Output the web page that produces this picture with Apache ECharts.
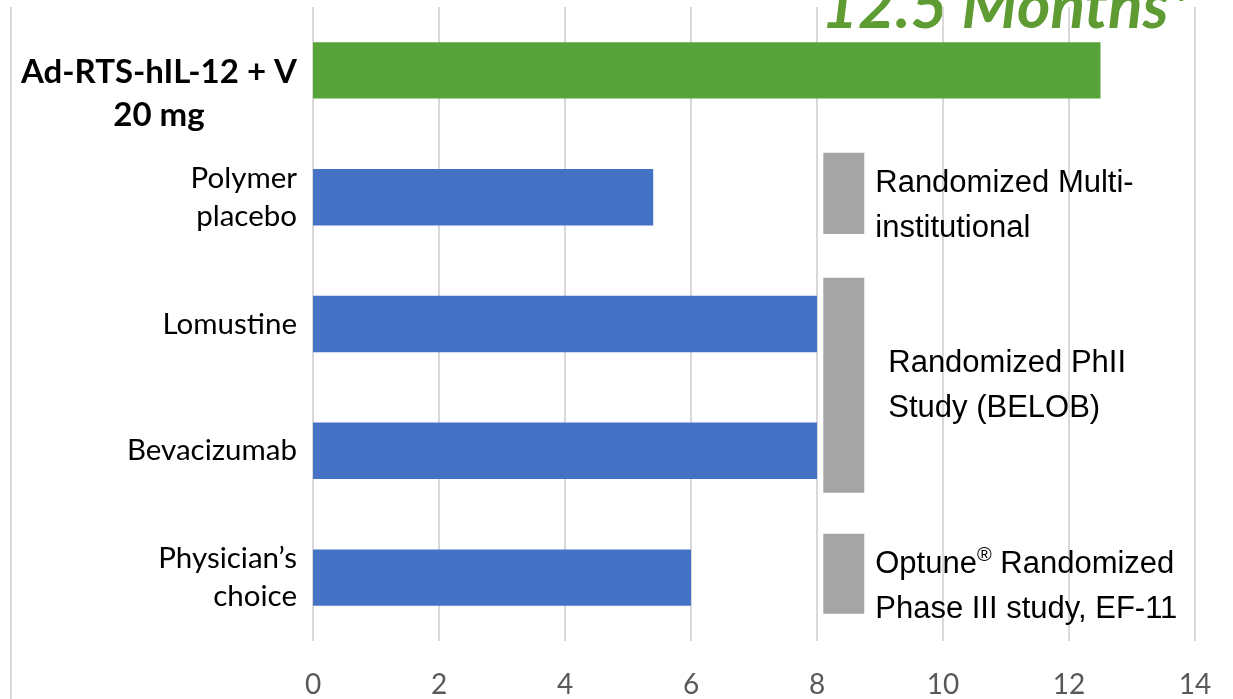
<!DOCTYPE html>
<html>
<head>
<meta charset="utf-8">
<title>Median overall survival</title>
<script src="https://cdn.jsdelivr.net/npm/echarts@6/dist/echarts.min.js"></script>
<style>
  html, body { margin: 0; padding: 0; background: #ffffff; }
  #chart { width: 1233px; height: 699px; }
</style>
</head>
<body>
<div id="chart"></div>
<script>
// Treatment arms (top to bottom) and their median survival in months
const categories = ['Ad-RTS-hIL-12 + V\n20 mg', 'Polymer\nplacebo', 'Lomustine', 'Bevacizumab', 'Physician’s\nchoice'];
const survivalMonths = [12.5, 5.4, 8.0, 8.0, 6.0];
const headline = '12.5 Months*';

// Study groupings shown to the right of the bars
const studyNotes = ['Randomized Multi-\ninstitutional', 'Randomized PhII\nStudy (BELOB)', 'Optune® Randomized\nPhase III study, EF-11'];
const studyFirstArm = [1, 2, 4];
const studyLastArm = [1, 3, 4];

// Layout / styling
const NOTE_X0 = 8.1, NOTE_X1 = 8.75;                    // grey marker span on the month axis
const NOTE_EXT = [[0.35, 0.29], [0.365, 0.33], [0.345, 0.285]]; // marker reach above/below its arms (band units)
const NOTE_TEXT_OFFSET = [[11, 13], [24, 1], [11, 13]];
const GREEN = '#56A33A', BLUE = '#4472C4', GREY = '#A5A5A5';

const chart = echarts.init(document.getElementById('chart'), null, { renderer: 'canvas' });

function noteRich(text) {
  return text.split('\n').map(l => '{t|' + l.replace('®', '}{sup|®}{t|') + '}').join('\n');
}

function armLabel(value, index) {
  const lines = value.split('\n');
  if (index === 0) {
    return '{s| }\n' + lines.map(l => '{b|' + l + '}').join('\n');
  }
  return lines.map(l => '{n|' + l + '}').join('\n');
}

const option = {
  backgroundColor: '#ffffff',
  animation: false,
  grid: { left: 313, right: 38, top: 7, bottom: 52, containLabel: false },
  xAxis: {
    type: 'value',
    min: 0, max: 14, interval: 2,
    axisLine: { show: false },
    axisTick: { show: false },
    splitLine: { show: true, lineStyle: { color: '#D9D9D9', width: 2 } },
    axisLabel: { color: '#595959', fontFamily: 'Lato', fontSize: 28, margin: 30 }
  },
  yAxis: {
    type: 'category',
    inverse: true,
    data: categories,
    axisLine: { show: false },
    axisTick: { show: false },
    axisLabel: {
      interval: 0,
      margin: 16,
      formatter: armLabel,
      rich: {
        s: { fontSize: 10, lineHeight: 46 },
        b: { fontFamily: 'Lato', fontWeight: 'bold', fontSize: 33, lineHeight: 43, color: '#000000', align: 'center' },
        n: { fontFamily: 'Lato', fontSize: 29.5, lineHeight: 38, color: '#000000', align: 'right' }
      }
    }
  },
  series: [
    {
      type: 'bar',
      barWidth: '44.5%',
      data: survivalMonths.map((v, i) => ({ value: v, itemStyle: { color: i === 0 ? GREEN : BLUE } })),
      z: 3
    },
    {
      type: 'custom',
      z: 4,
      encode: { x: [0, 1], y: [2, 3] },
      data: studyFirstArm.map((f, i) => [NOTE_X0, NOTE_X1, f, studyLastArm[i]]),
      renderItem: function (params, api) {
        const idx = params.dataIndex;
        const band = api.size([0, 1])[1];
        const a = api.coord([api.value(0), api.value(2)]);
        const b = api.coord([api.value(1), api.value(3)]);
        const top = a[1] - band * NOTE_EXT[idx][0];
        const bottom = b[1] + band * NOTE_EXT[idx][1];
        const off = NOTE_TEXT_OFFSET[idx];
        return {
          type: 'group',
          children: [
            { type: 'rect', shape: { x: a[0], y: top, width: b[0] - a[0], height: bottom - top }, style: { fill: GREY } },
            {
              type: 'text',
              x: b[0] + off[0],
              y: (top + bottom) / 2 + off[1],
              style: {
                text: noteRich(studyNotes[idx]),
                align: 'left',
                verticalAlign: 'middle',
                rich: {
                  t: { fontFamily: 'Liberation Sans', fontSize: 31, lineHeight: 45, fill: '#000000' },
                  sup: { fontFamily: 'Liberation Sans', fontSize: 20, lineHeight: 45, fill: '#000000', verticalAlign: 'top', padding: [4, 0, 0, 0] }
                }
              }
            }
          ]
        };
      }
    }
  ],
  graphic: [
    { type: 'line', shape: { x1: 11, y1: 7, x2: 11, y2: 699 }, style: { stroke: '#D9D9D9', lineWidth: 2 } },
    {
      type: 'text', x: 821, y: 7,
      style: { text: headline, font: 'italic bold 64px Lato', fill: '#5E9C33', align: 'left', verticalAlign: 'middle' }
    }
  ]
};

chart.setOption(option);
</script>
</body>
</html>
